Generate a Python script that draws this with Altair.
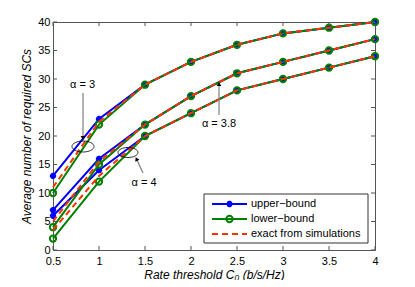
import altair as alt
import pandas as pd

rate = [0.5, 1, 1.5, 2, 2.5, 3, 3.5, 4]
alphas = ["3", "3.8", "4"]
upper = {
    "3":   [13, 23, 29, 33, 36, 38, 39, 40],
    "3.8": [7, 16, 22, 27, 31, 33, 35, 37],
    "4":   [6, 14, 20, 24, 28, 30, 32, 34],
}
lower = {
    "3":   [10, 22, 29, 33, 36, 38, 39, 40],
    "3.8": [4, 15, 22, 27, 31, 33, 35, 37],
    "4":   [2, 12, 20, 24, 28, 30, 32, 34],
}
exact = {
    "3":   [11, 22.5, 29, 33, 36, 38, 39, 40],
    "3.8": [5, 15.5, 22, 27, 31, 33, 35, 37],
    "4":   [3.5, 13, 20, 24, 28, 30, 32, 34],
}
x_ticks = [0.5, 1, 1.5, 2, 2.5, 3, 3.5, 4]
y_ticks = [0, 5, 10, 15, 20, 25, 30, 35, 40]

rows = []
for name, d in [("upper", upper), ("lower", lower), ("exact", exact)]:
    for a in alphas:
        for r, v in zip(rate, d[a]):
            rows.append({"series": name, "alpha": a, "rate": r, "val": v})
df = pd.DataFrame(rows)

W, H = 322, 228
AX = "#555555"
FONT = "Liberation Sans"
BLUE = "#0000ff"
GREEN = "#008000"
RED = "#ff3300"
STAR = "M-1,0L1,0M0,-1L0,1M-0.7,-0.7L0.7,0.7M-0.7,0.7L0.7,-0.7"
ELLIPSE = "M-1,0A1,0.5 0 1,1 1,0A1,0.5 0 1,1 -1,0Z"

xs = alt.Scale(domain=[0.5, 4], nice=False)
ys = alt.Scale(domain=[0, 40], nice=False)
xax = alt.Axis(values=x_ticks, format="~g", labelFlush=False, title="Rate threshold C₀ (b/s/Hz)",
               labelPadding=5, titlePadding=3, titleFontStyle="italic", titleFontWeight="normal")
yax = alt.Axis(values=y_ticks, format="~g", labelFlush=False, title="Average number of required SCs",
               labelPadding=3, titlePadding=4, titleFontStyle="italic", titleFontWeight="normal")

X = alt.X("rate:Q", scale=xs, axis=xax)
Y = alt.Y("val:Q", scale=ys, axis=yax)

base = alt.Chart(df)
up = base.transform_filter("datum.series=='upper'")
lo = base.transform_filter("datum.series=='lower'")
ex = base.transform_filter("datum.series=='exact'")

up_line = up.mark_line(color=BLUE, strokeWidth=2).encode(x=X, y=Y, detail="alpha:N")
up_pt = up.mark_point(shape=STAR, color=BLUE, size=40, strokeWidth=2, opacity=1).encode(x=X, y=Y)
lo_line = lo.mark_line(color=GREEN, strokeWidth=2).encode(x=X, y=Y, detail="alpha:N")
lo_pt = lo.mark_point(shape="circle", color=GREEN, size=40, strokeWidth=2, filled=False, opacity=1).encode(x=X, y=Y)
ex_line = ex.mark_line(color=RED, strokeWidth=2, strokeDash=[6, 4]).encode(x=X, y=Y, detail="alpha:N")

xt = alt.Chart(pd.DataFrame({"rate": x_ticks}))
yt = alt.Chart(pd.DataFrame({"val": y_ticks}))
ticks = [
    xt.mark_rule(color=AX).encode(x=X, y=alt.value(H), y2=alt.value(H - 4)),
    xt.mark_rule(color=AX).encode(x=X, y=alt.value(0), y2=alt.value(4)),
    yt.mark_rule(color=AX).encode(y=Y, x=alt.value(0), x2=alt.value(4)),
    yt.mark_rule(color=AX).encode(y=Y, x=alt.value(W), x2=alt.value(W - 4)),
]

one = alt.Chart(alt.Data(values=[{}]))

def text(t, x, y, size=11, align="center"):
    return one.mark_text(font=FONT, fontSize=size, align=align, baseline="middle", color="black").encode(
        x=alt.value(x), y=alt.value(y), text=alt.value(t))

def rule(x1, y1, x2, y2, color="#808080", width=1.2, dash=None):
    kw = dict(color=color, strokeWidth=width)
    if dash:
        kw["strokeDash"] = dash
    return one.mark_rule(**kw).encode(x=alt.value(x1), y=alt.value(y1), x2=alt.value(x2), y2=alt.value(y2))

def sym(shape, x, y, size, color, filled=False, angle=0, width=1.0):
    kw = dict(shape=shape, size=size, color=color, filled=filled, opacity=1, strokeWidth=width)
    if angle:
        kw["angle"] = angle
    return one.mark_point(**kw).encode(x=alt.value(x), y=alt.value(y))

annot = [
    # alpha = 3
    text("α = 3", 29.5, 63),
    rule(30, 71, 30, 114),
    sym("triangle-down", 30, 116, 22, "black", filled=True),
    sym(ELLIPSE, 30, 124.5, 484, "black", width=0.8),
    # alpha = 3.8
    text("α = 3.8", 166, 102),
    rule(166, 93, 166, 64),
    sym("triangle-up", 166, 62, 22, "black", filled=True),
    # alpha = 4
    text("α = 4", 91, 161),
    rule(90, 151, 84, 138),
    sym("triangle-up", 83.5, 137, 22, "black", filled=True, angle=335),
    sym(ELLIPSE, 75, 130.5, 400, "black", width=0.8),
]

legend = [
    one.mark_rect(fill="white", stroke="#333333", strokeWidth=1).encode(
        x=alt.value(151), x2=alt.value(315), y=alt.value(172), y2=alt.value(221)),
    rule(159, 182, 194, 182, color=BLUE, width=2),
    sym(STAR, 176.5, 182, 40, BLUE, width=2),
    rule(159, 197, 194, 197, color=GREEN, width=2),
    sym("circle", 176.5, 197, 40, GREEN, width=2),
    rule(159, 212, 194, 212, color=RED, width=2, dash=[6, 4]),
    text("upper−bound", 198, 182, align="left"),
    text("lower−bound", 198, 197, align="left"),
    text("exact from simulations", 198, 212, align="left"),
]

chart = alt.layer(
    up_line, up_pt, lo_line, lo_pt, ex_line, *ticks, *annot, *legend
).properties(
    width=W, height=H,
    autosize=alt.AutoSizeParams(type="none"),
    padding={"left": 45, "top": 14, "right": 10, "bottom": 30},
).configure_view(stroke=AX, strokeWidth=1).configure_axis(
    grid=False, ticks=False, domain=False, labelFont=FONT, labelFontSize=11,
    labelColor="black", titleFont=FONT, titleFontSize=12, titleColor="black",
)

chart.save("out.html", embed_options={"renderer": "svg", "actions": False})
